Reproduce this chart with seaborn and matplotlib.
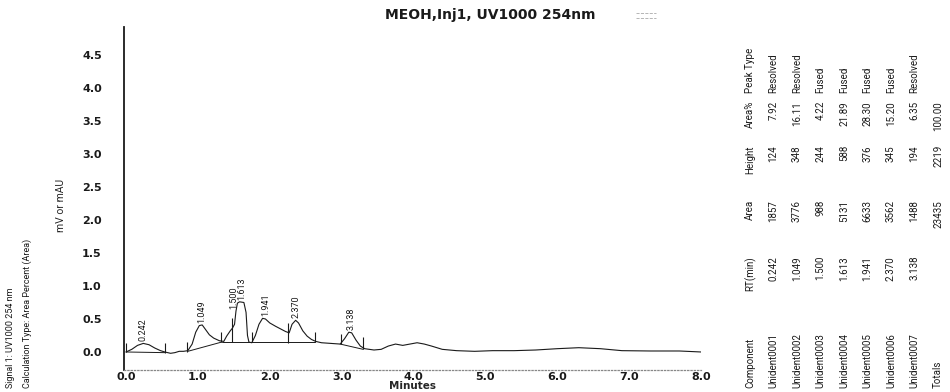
import numpy as np
import pandas as pd
import matplotlib
matplotlib.use("Agg")
import matplotlib.pyplot as plt
from matplotlib.lines import Line2D
import seaborn as sns

# -----------------------------
# 1. DATA
# -----------------------------
trace_time = [0.00, 0.08, 0.16, 0.24, 0.32, 0.40, 0.48, 0.54, 0.62, 0.68, 0.74, 0.80,
              0.86, 0.92, 0.97, 1.02, 1.06, 1.10, 1.16, 1.22, 1.30, 1.36, 1.40, 1.45,
              1.48, 1.51, 1.53, 1.55, 1.58, 1.64, 1.67, 1.69, 1.71, 1.75, 1.80, 1.85,
              1.90, 1.94, 2.00, 2.08, 2.15, 2.22, 2.27, 2.31, 2.36, 2.40, 2.46, 2.52,
              2.58, 2.64, 2.72, 2.85, 2.98, 3.04, 3.10, 3.14, 3.20, 3.26, 3.32, 3.45,
              3.55, 3.65, 3.75, 3.85, 3.95, 4.05, 4.15, 4.25, 4.40, 4.60, 4.85, 5.10,
              5.40, 5.70, 6.00, 6.30, 6.60, 6.90, 7.30, 7.70, 8.00]
trace_signal = [0.00, 0.04, 0.10, 0.13, 0.11, 0.06, 0.02, 0.00, -0.02, -0.01, 0.01, 0.01,
                0.02, 0.12, 0.30, 0.40, 0.41, 0.35, 0.26, 0.21, 0.17, 0.16, 0.24, 0.32,
                0.36, 0.42, 0.62, 0.74, 0.76, 0.75, 0.60, 0.25, 0.15, 0.14, 0.25, 0.42,
                0.51, 0.50, 0.44, 0.39, 0.35, 0.31, 0.29, 0.42, 0.48, 0.44, 0.32, 0.24,
                0.19, 0.16, 0.14, 0.13, 0.12, 0.20, 0.30, 0.29, 0.18, 0.09, 0.05, 0.03,
                0.04, 0.09, 0.12, 0.10, 0.12, 0.14, 0.12, 0.09, 0.04, 0.02, 0.01, 0.02,
                0.02, 0.03, 0.05, 0.065, 0.05, 0.02, 0.015, 0.015, 0.00]

# integration baselines (start time, start level, end time, end level)
base_t0 = [0.00, 0.86, 1.33, 2.98]
base_v0 = [0.00, 0.01, 0.15, 0.12]
base_t1 = [0.54, 1.33, 2.63, 3.30]
base_v1 = [-0.01, 0.15, 0.15, 0.04]

# peak start / end event marks
event_time = [0.00, 0.54, 0.85, 1.32, 1.47, 1.75, 2.26, 2.63, 2.99, 3.30]
event_lo = [0.00, -0.01, 0.00, 0.15, 0.15, 0.15, 0.14, 0.15, 0.12, 0.04]
event_hi = [0.14, 0.14, 0.15, 0.30, 0.52, 0.30, 0.44, 0.30, 0.27, 0.23]

# results table
components = ["Unident0001", "Unident0002", "Unident0003", "Unident0004",
              "Unident0005", "Unident0006", "Unident0007"]
rt_min = [0.242, 1.049, 1.500, 1.613, 1.941, 2.370, 3.138]
area = [1857, 3776, 988, 5131, 6633, 3562, 1488]
height = [124, 348, 244, 588, 376, 345, 194]
area_pct = [7.92, 16.11, 4.22, 21.89, 28.30, 15.20, 6.35]
peak_type = ["Resolved", "Resolved", "Fused", "Fused", "Fused", "Fused", "Resolved"]

y_ticks = [0.0, 0.5, 1.0, 1.5, 2.0, 2.5, 3.0, 3.5, 4.0, 4.5]
x_ticks = [0.0, 1.0, 2.0, 3.0, 4.0, 5.0, 6.0, 7.0, 8.0]

# -----------------------------
# 2. STYLE
# -----------------------------
sns.set_style("white")
plt.rcParams["font.family"] = ["DejaVu Sans"]
NARROW = ["Liberation Sans Narrow", "Roboto", "DejaVu Sans"]
INK = "#1a1a1a"

W, H = 950, 392
fig = plt.figure(figsize=(W / 100, H / 100), dpi=100)
ax = fig.add_axes([124 / W, 22 / H, (701 - 124) / W, (370 - 27) / H])

# -----------------------------
# 3. CHROMATOGRAM
# -----------------------------
df = pd.DataFrame({"Minutes": trace_time, "signal": trace_signal})
sns.lineplot(data=df, x="Minutes", y="signal", sort=False, color=INK,
             linewidth=0.8, ax=ax)

for t0, v0, t1, v1 in zip(base_t0, base_v0, base_t1, base_v1):
    ax.plot([t0, t1], [v0, v1], color=INK, linewidth=0.7)

ax.vlines(event_time, event_lo, event_hi, color=INK, linewidth=0.8)

# peak labels just above each apex
tt = np.array(trace_time)
ss = np.array(trace_signal)
for rt in rt_min:
    top = ss[np.abs(tt - rt) <= 0.05].max()
    ax.text(rt, top + 0.03, f"{rt:.3f}", rotation=90, ha="center", va="bottom",
            fontsize=6.5, family=NARROW, color=INK)

# -----------------------------
# 4. AXES
# -----------------------------
ax.set_xlim(-0.028, 8.0)
ax.set_ylim(-0.273, 4.924)
ax.set_xticks(x_ticks)
ax.set_yticks(y_ticks)
ax.set_xticklabels([f"{v:.1f}" for v in x_ticks], fontweight="bold", fontsize=8)
ax.set_yticklabels([f"{v:.1f}" for v in y_ticks], fontweight="bold", fontsize=8)
ax.tick_params(axis="y", direction="out", length=4, width=0.8, pad=12, colors=INK)
ax.tick_params(axis="x", direction="in", length=2, width=0.6, pad=1.5, colors=INK)

for side in ["top", "right"]:
    ax.spines[side].set_visible(False)
ax.spines["left"].set_color(INK)
ax.spines["left"].set_linewidth(1.3)
ax.spines["bottom"].set_color("#888888")
ax.spines["bottom"].set_linestyle(":")
ax.spines["bottom"].set_linewidth(0.9)

ax.set_xlabel("Minutes", fontweight="bold", fontsize=7.5, labelpad=-1)
ax.set_ylabel("mV or mAU", family=NARROW, fontsize=7.5)
ax.yaxis.set_label_coords(-0.100, 0.48)

# title with a faint legend swatch
fig.text(490 / W, 1 - 15 / H, "MEOH,Inj1, UV1000 254nm", ha="center", va="center",
         fontsize=10, fontweight="bold", color=INK)
sw = [Line2D([], [], color="#aaaaaa", linewidth=0.6, linestyle="--") for _ in range(2)]
fig.legend(handles=sw, labels=["", ""], loc="center",
           bbox_to_anchor=(646 / W, 1 - 16 / H), frameon=False,
           handlelength=3.2, labelspacing=0.05, fontsize=4.5,
           handletextpad=0, borderpad=0)

# left side notes
fig.text(11 / W, 1 - 388 / H, "Signal 1: UV1000 254 nm", rotation=90,
         ha="center", va="bottom", fontsize=6.5, family=NARROW, color=INK)
fig.text(27 / W, 1 - 388 / H, "Calculation Type: Area Percent (Area)", rotation=90,
         ha="center", va="bottom", fontsize=6.5, family=NARROW, color=INK)

# -----------------------------
# 5. RESULTS TABLE (rotated)
# -----------------------------
col_x = [750 + 23.5 * k for k in range(9)]
rows_comp = ["Component"] + components + ["Totals"]
rows_rt = ["RT(min)"] + [f"{v:.3f}" for v in rt_min] + [""]
rows_area = ["Area"] + [str(v) for v in area] + [str(sum(area))]
rows_height = ["Height"] + [str(v) for v in height] + [str(sum(height))]
rows_pct = ["Area%"] + [f"{v:.2f}" for v in area_pct] + [f"{100:.2f}"]
rows_type = ["Peak Type"] + peak_type + [""]

columns = [
    (rows_comp, 388, "bottom"),
    (rows_rt, 256, "top"),
    (rows_area, 200, "top"),
    (rows_height, 145, "top"),
    (rows_pct, 101, "top"),
    (rows_type, 93, "bottom"),
]
for rows, ypx, va in columns:
    for x, s in zip(col_x, rows):
        fig.text(x / W, 1 - ypx / H, s, rotation=90, ha="center", va=va,
                 fontsize=7, family=NARROW, color=INK)

fig.savefig("out.png", dpi=100)
